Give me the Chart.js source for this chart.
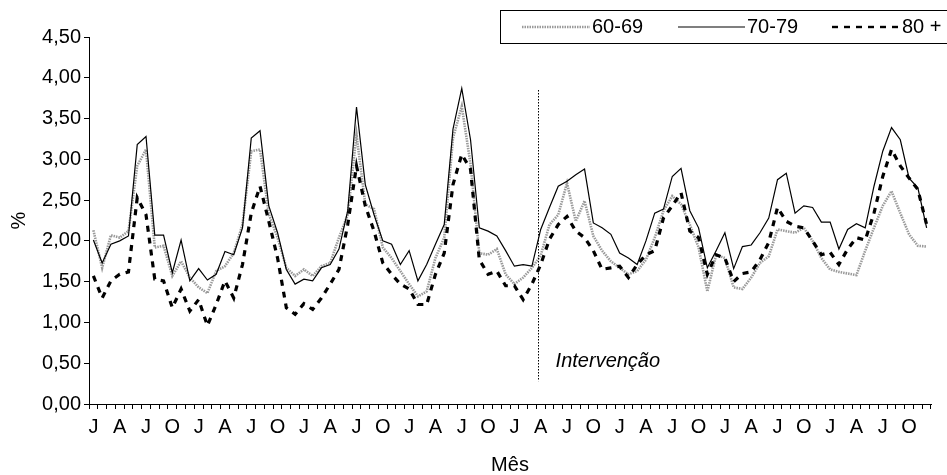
<!DOCTYPE html>
<html>
<head>
<meta charset="utf-8">
<script src="https://cdn.jsdelivr.net/npm/chart.js@4/dist/chart.umd.min.js"></script>
<style>
  html, body { margin: 0; padding: 0; background: #fff; }
  #wrap { width: 947px; height: 475px; position: relative; }
</style>
</head>
<body>
<div id="wrap"><canvas id="chart"></canvas></div>
<script>
// month initials (pt-BR), 8 years of monthly data
const MONTH_INITIALS = ['J', 'F', 'M', 'A', 'M', 'J', 'J', 'A', 'S', 'O', 'N', 'D'];
const YEAR_COUNT = 8;

const SERIES_NAMES = ['60-69', '70-79', '80 +'];

const AGE_60_69 = [
  2.13, 1.67, 2.07, 2.04, 2.12, 2.92, 3.12, 1.92, 1.94, 1.57, 1.75, 1.55,
  1.43, 1.36, 1.63, 1.69, 1.85, 2.20, 3.10, 3.12, 2.33, 2.04, 1.67, 1.57,
  1.65, 1.57, 1.69, 1.73, 2.04, 2.32, 3.30, 2.45, 2.39, 1.92, 1.79, 1.63,
  1.47, 1.32, 1.38, 1.79, 2.04, 3.26, 3.65, 2.94, 1.85, 1.83, 1.90, 1.59,
  1.47, 1.55, 1.67, 1.82, 2.20, 2.32, 2.71, 2.24, 2.49, 2.06, 1.88, 1.75,
  1.67, 1.59, 1.63, 1.77, 2.04, 2.37, 2.55, 2.45, 2.20, 1.92, 1.38, 1.83,
  1.79, 1.43, 1.41, 1.55, 1.73, 1.81, 2.14, 2.12, 2.10, 2.16, 2.00, 1.79,
  1.65, 1.62, 1.60, 1.58, 1.88, 2.16, 2.43, 2.61, 2.34, 2.08, 1.94, 1.93
];

const AGE_70_79 = [
  2.01, 1.73, 1.96, 2.00, 2.06, 3.18, 3.28, 2.07, 2.07, 1.61, 2.01, 1.51,
  1.66, 1.52, 1.59, 1.87, 1.83, 2.16, 3.26, 3.35, 2.43, 2.10, 1.65, 1.47,
  1.53, 1.51, 1.67, 1.71, 1.90, 2.37, 3.64, 2.69, 2.32, 2.00, 1.96, 1.71,
  1.88, 1.51, 1.71, 1.96, 2.20, 3.37, 3.87, 3.24, 2.16, 2.12, 2.06, 1.88,
  1.69, 1.71, 1.69, 2.14, 2.41, 2.67, 2.73, 2.81, 2.88, 2.22, 2.16, 2.08,
  1.85, 1.79, 1.71, 2.00, 2.34, 2.39, 2.79, 2.89, 2.37, 2.16, 1.67, 1.88,
  2.10, 1.66, 1.93, 1.95, 2.10, 2.28, 2.75, 2.83, 2.34, 2.43, 2.41, 2.23,
  2.23, 1.90, 2.14, 2.21, 2.16, 2.67, 3.10, 3.39, 3.24, 2.77, 2.65, 2.16
];

const AGE_80_PLUS = [
  1.57, 1.30, 1.51, 1.59, 1.62, 2.53, 2.32, 1.53, 1.51, 1.18, 1.41, 1.14,
  1.28, 0.96, 1.22, 1.51, 1.30, 1.71, 2.34, 2.67, 2.24, 1.79, 1.18, 1.10,
  1.23, 1.16, 1.30, 1.47, 1.65, 2.20, 2.92, 2.43, 2.12, 1.73, 1.59, 1.47,
  1.41, 1.22, 1.22, 1.59, 1.85, 2.69, 3.06, 2.88, 1.77, 1.59, 1.63, 1.45,
  1.45, 1.28, 1.47, 1.71, 2.02, 2.20, 2.30, 2.12, 2.04, 1.88, 1.65, 1.67,
  1.69, 1.55, 1.71, 1.83, 1.88, 2.28, 2.43, 2.59, 2.12, 2.04, 1.59, 1.83,
  1.79, 1.50, 1.60, 1.62, 1.77, 1.98, 2.41, 2.24, 2.18, 2.16, 2.00, 1.83,
  1.86, 1.71, 1.90, 2.04, 2.01, 2.34, 2.79, 3.12, 2.92, 2.77, 2.63, 2.20
];

const Y_MIN = 0;
const Y_MAX = 4.5;
const Y_STEP = 0.5;

// intervention marker (category index, from/to in %)
const INTERVENTION_AT = 50.7;
const INTERVENTION_FROM = 0.28;
const INTERVENTION_TO = 3.85;
const INTERVENTION_LABEL = 'Intervenção';
const INTERVENTION_LABEL_AT = [52.7, 0.45];

const labels = [];
for (let y = 0; y < YEAR_COUNT; y++) labels.push(...MONTH_INITIALS);

const FONT = '"Liberation Sans", Arial, Helvetica, sans-serif';
Chart.defaults.font.family = FONT;
Chart.defaults.font.size = 20;
Chart.defaults.color = '#000';

const STYLES = [
  { color: '#9a9a9a', width: 2.6, dash: [1.5, 1] },
  { color: '#000', width: 1.2, dash: [] },
  { color: '#000', width: 3.2, dash: [6, 6] },
];

const interventionPlugin = {
  id: 'intervention',
  afterDatasetsDraw(chart) {
    const { ctx, scales: { x, y } } = chart;
    const px = Math.round(x.getPixelForValue(INTERVENTION_AT)) + 0.5;
    ctx.save();
    ctx.strokeStyle = '#000';
    ctx.lineWidth = 1;
    ctx.setLineDash([1.5, 1.5]);
    ctx.beginPath();
    ctx.moveTo(px, y.getPixelForValue(INTERVENTION_TO));
    ctx.lineTo(px, y.getPixelForValue(INTERVENTION_FROM));
    ctx.stroke();
    ctx.setLineDash([]);
    ctx.fillStyle = '#000';
    ctx.font = 'italic 20px ' + FONT;
    ctx.textBaseline = 'alphabetic';
    ctx.fillText(INTERVENTION_LABEL,
      x.getPixelForValue(INTERVENTION_LABEL_AT[0]),
      y.getPixelForValue(INTERVENTION_LABEL_AT[1]));
    ctx.restore();
  },
};

const legendPlugin = {
  id: 'boxLegend',
  afterDraw(chart) {
    const { ctx } = chart;
    ctx.save();
    ctx.strokeStyle = '#000';
    ctx.lineWidth = 1;
    ctx.strokeRect(500.5, 10.5, 470, 33);
    const items = [
      { x1: 522, x2: 590, tx: 592 },
      { x1: 678, x2: 745, tx: 747 },
      { x1: 832, x2: 898, tx: 902 },
    ];
    const ly = 27;
    items.forEach((it, i) => {
      const st = STYLES[i];
      ctx.strokeStyle = st.color;
      ctx.lineWidth = i === 2 ? 2.4 : st.width;
      ctx.setLineDash(st.dash);
      ctx.beginPath();
      ctx.moveTo(it.x1, ly);
      ctx.lineTo(it.x2, ly);
      ctx.stroke();
      ctx.setLineDash([]);
      ctx.fillStyle = '#000';
      ctx.font = '20px ' + FONT;
      ctx.textBaseline = 'middle';
      ctx.fillText(SERIES_NAMES[i], it.tx, ly);
    });
    ctx.restore();
  },
};

const seriesData = [AGE_60_69, AGE_70_79, AGE_80_PLUS];

new Chart(document.getElementById('chart'), {
  type: 'line',
  data: {
    labels,
    datasets: seriesData.map((d, i) => ({
      label: SERIES_NAMES[i],
      data: d,
      borderColor: STYLES[i].color,
      borderWidth: STYLES[i].width,
      borderDash: STYLES[i].dash,
      pointRadius: 0,
      tension: 0,
      fill: false,
      order: 2 - i,
    })),
  },
  options: {
    responsive: true,
    maintainAspectRatio: false,
    animation: false,
    layout: { padding: { left: 9, right: 16, top: 37, bottom: 0 } },
    plugins: {
      legend: { display: false },
      tooltip: { enabled: false },
    },
    scales: {
      x: {
        type: 'category',
        offset: true,
        grid: {
          offset: true,
          drawOnChartArea: false,
          drawTicks: true,
          tickLength: 5,
          color: '#000',
        },
        border: { display: true, color: '#000', width: 1 },
        ticks: {
          autoSkip: false,
          maxRotation: 0,
          padding: 6,
          font: { size: 20 },
          callback: (v, i) => (i % 3 === 0 ? labels[i] : ''),
        },
        title: {
          display: true,
          text: 'Mês',
          font: { size: 20, lineHeight: 1 },
          padding: { top: 0, bottom: 0 },
        },
        afterFit(scale) { scale.height = 71; },
      },
      y: {
        min: Y_MIN,
        max: Y_MAX,
        grid: {
          drawOnChartArea: false,
          drawTicks: true,
          tickLength: 5,
          color: '#000',
        },
        border: { display: true, color: '#000', width: 1 },
        ticks: {
          stepSize: Y_STEP,
          padding: 3,
          font: { size: 20 },
          callback: (v) => v.toFixed(2).replace('.', ','),
        },
        title: {
          display: true,
          text: '%',
          font: { size: 20, lineHeight: 1 },
          padding: { top: 0, bottom: 0 },
        },
        afterFit(scale) { scale.width = 80; },
      },
    },
  },
  plugins: [interventionPlugin, legendPlugin],
});
</script>
</body>
</html>
